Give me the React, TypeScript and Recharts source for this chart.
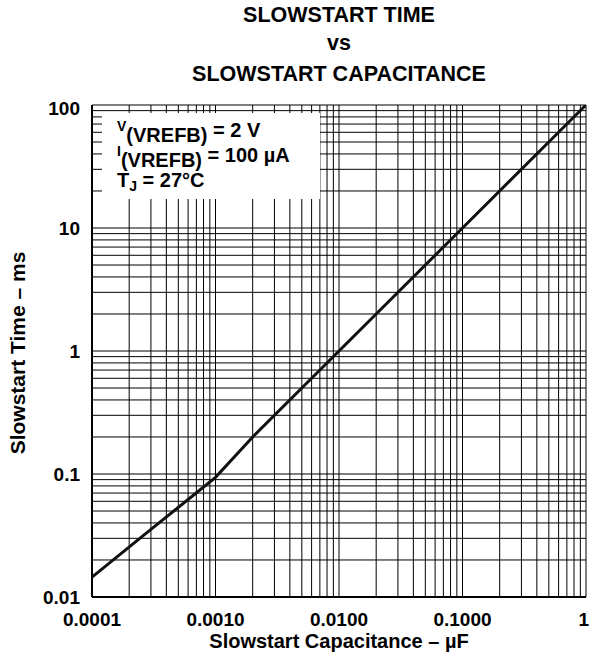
import React from 'react';
import { LineChart, Line, XAxis, YAxis, CartesianGrid } from 'recharts';

// Slowstart capacitance (µF)
const capacitance = [0.0001, 0.0003, 0.0006, 0.001, 0.002, 0.01, 0.1, 1];
// Slowstart time (ms)
const slowstartTime = [0.0145, 0.0355, 0.062, 0.094, 0.2, 1, 10, 100];

const xDecades = [0.0001, 0.001, 0.01, 0.1, 1];
const xTickLabels = ['0.0001', '0.0010', '0.0100', '0.1000', '1'];
const yDecades = [0.01, 0.1, 1, 10, 100];
const yTickLabels = ['0.01', '0.1', '1', '10', '100'];
const minorMultipliers = [1, 2, 3, 4, 5, 6, 7, 8, 9];

const titleLines = ['SLOWSTART TIME', 'vs', 'SLOWSTART CAPACITANCE'];
const xTitle = 'Slowstart Capacitance – µF';
const yTitle = 'Slowstart Time – ms';

const buildTicks = (decades: number[]) => {
  const out: number[] = [];
  decades.slice(0, -1).forEach((d) => {
    minorMultipliers.forEach((m) => out.push(parseFloat((d * m).toPrecision(6))));
  });
  out.push(decades[decades.length - 1]);
  return out;
};

const xTicks = buildTicks(xDecades);
const yTicks = buildTicks(yDecades);

const data = capacitance.map((c, i) => ({ c, t: slowstartTime[i] }));

const FONT = '"Liberation Sans", Arial, Helvetica, sans-serif';

const labelFor = (decades: number[], labels: string[], v: number) => {
  const idx = decades.findIndex((d) => Math.abs(d - v) / d < 1e-6);
  return idx >= 0 ? labels[idx] : '';
};

const XTick = (props: any) => {
  const { x, y, payload } = props;
  const label = labelFor(xDecades, xTickLabels, payload.value);
  if (!label) return null;
  const isLast = payload.value === xDecades[xDecades.length - 1];
  return (
    <text
      x={isLast ? x + 3 : x}
      y={y + 14}
      dy="0.71em"
      textAnchor={isLast ? 'end' : 'middle'}
      fill="#000"
      fontSize={19}
      fontWeight="bold"
      fontFamily={FONT}
    >
      {label}
    </text>
  );
};

const YTick = (props: any) => {
  const { x, y, payload } = props;
  const label = labelFor(yDecades, yTickLabels, payload.value);
  if (!label) return null;
  const isTop = payload.value === yDecades[yDecades.length - 1];
  return (
    <text
      x={x - 10}
      y={isTop ? y + 3 : y}
      dy="0.355em"
      textAnchor="end"
      fill="#000"
      fontSize={19}
      fontWeight="bold"
      fontFamily={FONT}
    >
      {label}
    </text>
  );
};

export default function App() {
  return (
    <div style={{ position: 'absolute', left: 0, top: 0, width: 589, height: 665, background: '#fff' }}>
      <LineChart
        width={589}
        height={665}
        data={data}
        margin={{ top: 105, right: 3, left: 0, bottom: 0 }}
      >
        <CartesianGrid stroke="#000" strokeWidth={1} />
        <XAxis
          dataKey="c"
          type="number"
          scale="log"
          domain={[0.0001, 1]}
          allowDataOverflow
          ticks={xTicks}
          interval={0}
          tickLine={false}
          tickSize={0}
          height={68}
          axisLine={{ stroke: '#000', strokeWidth: 2 }}
          tick={<XTick />}
        />
        <XAxis
          xAxisId="top"
          orientation="top"
          type="number"
          scale="log"
          domain={[0.0001, 1]}
          allowDataOverflow
          height={0}
          tick={false}
          tickLine={false}
          axisLine={{ stroke: '#000', strokeWidth: 2 }}
        />
        <YAxis
          type="number"
          scale="log"
          domain={[0.01, 100]}
          allowDataOverflow
          ticks={yTicks}
          interval={0}
          tickLine={false}
          tickSize={0}
          width={92}
          axisLine={{ stroke: '#000', strokeWidth: 2 }}
          tick={<YTick />}
        />
        <YAxis
          yAxisId="right"
          orientation="right"
          type="number"
          scale="log"
          domain={[0.01, 100]}
          allowDataOverflow
          width={0}
          tick={false}
          tickLine={false}
          axisLine={{ stroke: '#000', strokeWidth: 2 }}
        />
        <Line
          dataKey="t"
          type="linear"
          stroke="#111"
          strokeWidth={3}
          dot={false}
          isAnimationActive={false}
        />
      </LineChart>
      <svg
        width={589}
        height={665}
        style={{ position: 'absolute', left: 0, top: 0, pointerEvents: 'none' }}
        fontFamily={FONT}
        fontWeight="bold"
        fill="#000"
      >
        <text x={339} y={22} textAnchor="middle" fontSize={21.5}>{titleLines[0]}</text>
        <text x={339} y={50} textAnchor="middle" fontSize={21.5}>{titleLines[1]}</text>
        <text x={339} y={81} textAnchor="middle" fontSize={21.5}>{titleLines[2]}</text>
        <text x={339} y={648} textAnchor="middle" fontSize={20}>{xTitle}</text>
        <text
          x={25}
          y={353}
          textAnchor="middle"
          fontSize={21}
          transform="rotate(-90 25 353)"
        >
          {yTitle}
        </text>
        <rect x={102} y={113} width={218} height={86} fill="#fff" />
        <text x={117} y={137} fontSize={20}>
          <tspan fontSize={14} dy={-6}>V</tspan>
          <tspan dy={11}>(VREFB)</tspan>
          <tspan dy={-5}> = 2 V</tspan>
        </text>
        <text x={117} y={162} fontSize={20}>
          <tspan fontSize={14} dy={-6}>I</tspan>
          <tspan dy={11}>(VREFB)</tspan>
          <tspan dy={-5}> = 100 µA</tspan>
        </text>
        <text x={117} y={187} fontSize={20}>
          <tspan>T</tspan>
          <tspan fontSize={14} dy={4}>J</tspan>
          <tspan dy={-4}> = 27°C</tspan>
        </text>
      </svg>
    </div>
  );
}
